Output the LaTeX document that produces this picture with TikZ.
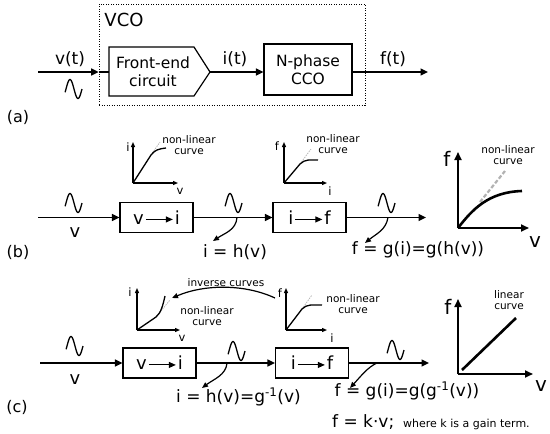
\documentclass[tikz,border=0pt]{standalone}
\usepackage{fontspec}
\setmainfont{DejaVu Sans}
\usetikzlibrary{arrows.meta}
\newcommand{\blkarrow}{\tikz[baseline=0pt]\draw[line width=1pt,-{Triangle[length=7pt,width=6pt]}] (0pt,4.9pt) -- (27pt,4.9pt);}
\begin{document}
\begin{tikzpicture}[x=1pt,y=-1pt,
  lblm/.style={font=\fontsize{17}{20}\selectfont, inner sep=0},
  lblv/.style={font=\fontsize{18}{21}\selectfont, inner sep=0},
  blkf/.style={font=\fontsize{15.5}{18}\selectfont, align=center, inner sep=0},
  small/.style={font=\fontsize{10.5}{11}\selectfont, align=center, inner sep=0},
  tiny/.style={font=\fontsize{11}{12}\selectfont, inner sep=0},
  axl/.style={font=\fontsize{11.5}{13}\selectfont, inner sep=0},
  hugel/.style={font=\fontsize{20}{24}\selectfont, inner sep=0},
  blk/.style={draw, line width=1.2pt, minimum width=73pt, minimum height=30pt, inner sep=0, font=\fontsize{18}{21}\selectfont},
  sig/.style={line width=1.5pt, -{Triangle[length=7.5pt,width=7pt]}},
  wire/.style={line width=1.5pt},
  sax/.style={line width=1.1pt, -{Triangle[length=5pt,width=4pt]}},
  bax/.style={line width=1.8pt, -{Triangle[length=8pt,width=7pt]}},
  scurve/.style={line width=1.3pt},
  sdash/.style={gray!55, line width=0.8pt, dash pattern=on 1.5pt off 1pt},
  bcurve/.style={line width=2.6pt},
  bdash/.style={gray!60, line width=2.2pt, dash pattern=on 4pt off 2pt},
  curv/.style={line width=1.2pt, -{Triangle[length=6pt,width=5pt]}},
  wave/.pic={\draw[line width=1.3pt] plot[domain=-20:360,samples=60,smooth] ({\x/22.5},{-9.5*sin(\x)});}
]
\useasboundingbox (0,0) rectangle (550,434);

% ---------------- (a) ----------------
\node[draw, line width=0.8pt, dash pattern=on 1pt off 1.5pt, minimum width=266pt, minimum height=101pt, inner sep=0] (vco) at (232,54.75) {};
\node[font=\fontsize{18}{21}\selectfont, inner sep=0] (vcol) at (124,19.5) {VCO};
\coordinate (ain) at (38,72);
\coordinate (fenw) at (109,47);
\coordinate (fene) at (194,47);
\coordinate (fetip) at (210,72);
\coordinate (fese) at (194,96);
\coordinate (fesw) at (109,96);
\draw[line width=1.2pt] (fenw) -- (fene) -- (fetip) -- (fese) -- (fesw) -- cycle;
\node[blkf] (fe) at (153,71.5) {Front-end\\circuit};
\coordinate (fein) at (109,72);
\coordinate (vcoin) at (vco.west |- fein);
\draw[sig] (ain) -- (vcoin);
\draw[wire] (vcoin) -- (fein);
\node[draw, line width=1.2pt, minimum width=88pt, minimum height=51pt, inner sep=0, blkf] (cco) at (308,69.5) {N-phase\\CCO};
\draw[sig] (fetip) -- (fetip -| cco.west);
\coordinate (aout) at (428,72);
\draw[sig] (cco.east |- fetip) -- (aout);
\node[lblm] (vt) at (70,59.5) {v(t)};
\node[lblm] (it) at (235,59.5) {i(t)};
\node[lblm] (ft) at (393,59.5) {f(t)};
\pic at (66,89) {wave};
\node[font=\fontsize{16}{19}\selectfont, inner sep=0] (la) at (18,117) {(a)};

% ---------------- (b) ----------------
\node[blk] (b1) at (156.5,217.5) {v\hspace{1.5pt}\blkarrow\hspace{1.5pt}i};
\node[blk] (b2) at (309.5,217.5) {i\hspace{1.5pt}\blkarrow\hspace{1.5pt}f};
\coordinate (bin) at (38,217.5);
\coordinate (bout) at (426,217.5);
\draw[sig] (bin) -- (b1);
\draw[sig] (b1) -- (b2);
\draw[sig] (b2) -- (bout);
\pic at (66,203) {wave};
\pic at (226,203) {wave};
\pic at (379,203) {wave};
\coordinate (bm) at (237,217.5);
\coordinate (bmt) at (213,241);
\draw[curv] (bm) .. controls (236,230) and (225,233) .. (bmt);
\coordinate (bo) at (388,217.5);
\coordinate (bot) at (365,243);
\draw[curv] (bo) .. controls (386,230) and (376,234) .. (bot);
\node[lblv] (bv) at (75,233) {v};
\node[lblm] (bih) at (235,252) {i = h(v)};
\node[lblm] (bfg) at (418,250) {f = g(i)=g(h(v))};
\node[font=\fontsize{16}{19}\selectfont, inner sep=0] (lb) at (18,252) {(b)};

% small graph b1
\coordinate (g1o) at (133,183);
\draw[sax] (g1o) -- (133,142);
\draw[sax] (g1o) -- (178,183);
\draw[sdash] (151,155) -- (160,142);
\draw[scurve] (g1o) -- (151,155) .. controls (155,150) and (158,149) .. (166,148);
\node[axl] (g1i) at (128,147) {i};
\node[axl] (g1v) at (180,191) {v};
\node[small] (g1t) at (189,145) {non-linear\\curve};

% small graph b2
\coordinate (g2o) at (284,183);
\draw[sax] (g2o) -- (284,142);
\draw[sax] (g2o) -- (327,183);
\draw[sdash] (300,164) -- (311,149);
\draw[scurve] (g2o) -- (300,164) .. controls (305,159) and (310,160) .. (318,160);
\node[axl] (g2f) at (277,146) {f};
\node[axl] (g2i) at (330,191) {i};
\node[small] (g2t) at (333,144.5) {non-linear\\curve};

% big graph b
\coordinate (g3o) at (458,228);
\draw[bdash] (480,202) -- (505,171);
\draw[bcurve] (g3o) .. controls (472,210) and (488,192) .. (522,191);
\draw[bax] (g3o) -- (458,152);
\draw[bax] (g3o) -- (529,228);
\node[hugel] (g3f) at (447,159) {f};
\node[hugel] (g3v) at (535,242) {v};
\node[small] (g3t) at (508,155.5) {non-linear\\curve};

% ---------------- (c) ----------------
\node[blk] (c1) at (159.5,363) {v\hspace{1.5pt}\blkarrow\hspace{1.5pt}i};
\node[blk] (c2) at (312,363) {i\hspace{1.5pt}\blkarrow\hspace{1.5pt}f};
\coordinate (cin) at (40,363);
\coordinate (cout) at (429,363);
\draw[sig] (cin) -- (c1);
\draw[sig] (c1) -- (c2);
\draw[sig] (c2) -- (cout);
\pic at (67,346) {wave};
\pic at (229,351) {wave};
\pic at (388,350) {wave};
\coordinate (cm) at (227,363);
\coordinate (cmt) at (202,388);
\draw[curv] (cm) .. controls (226,375) and (214,379) .. (cmt);
\coordinate (co) at (377,363);
\coordinate (cot) at (350,388);
\draw[curv] (co) .. controls (368,367) and (361,376) .. (cot);
\node[lblv] (cv) at (75,380) {v};
\node[lblm] (cih) at (238.5,397) {i = h(v)=g\textsuperscript{-1}(v)};
\node[lblm] (cfg) at (407,391) {f = g(i)=g(g\textsuperscript{-1}(v))};
\node[lblm, anchor=base west] (cfk) at (332,427) {f = k·v;};
\node[tiny, anchor=base west] (cwh) at (403,427) {where k is a gain term.};
\node[font=\fontsize{16}{19}\selectfont, inner sep=0] (lc) at (17,407) {(c)};

% small graph c1
\coordinate (h1o) at (137,330);
\draw[sax] (h1o) -- (137,288);
\draw[sax] (h1o) -- (180,330);
\draw[sdash] (156,317) -- (170,300);
\draw[scurve] (h1o) -- (156,317) .. controls (161,313) and (163,305) .. (165,296);
\node[axl] (h1i) at (130,292) {i};
\node[axl] (h1v) at (182,338) {v};
\node[small] (h1t) at (207,316.5) {non-linear\\curve};
\node[small] (inv) at (226,282.5) {inverse curves};
\coordinate (invr) at (275,298);
\coordinate (invl) at (172,298);
\draw[curv] (invr) .. controls (245,284) and (205,284) .. (invl);

% small graph c2
\coordinate (h2o) at (286,330);
\draw[sax] (h2o) -- (286,288);
\draw[sax] (h2o) -- (327,330);
\draw[sdash] (302,309) -- (312,295);
\draw[scurve] (h2o) -- (302,309) .. controls (307,304) and (312,305) .. (322,305);
\node[axl] (h2f) at (280,293) {f};
\node[axl] (h2i) at (332,338) {i};
\node[small] (h2t) at (353,304.5) {non-linear\\curve};

% big graph c
\coordinate (h3o) at (458,374);
\draw[bax] (h3o) -- (458,299);
\draw[bax] (h3o) -- (533,374);
\draw[bcurve] (462,370) -- (516,318);
\node[hugel] (h3f) at (448,307) {f};
\node[hugel] (h3v) at (541,386) {v};
\node[small] (h3t) at (509,300) {linear\\curve};
\end{tikzpicture}
\end{document}
